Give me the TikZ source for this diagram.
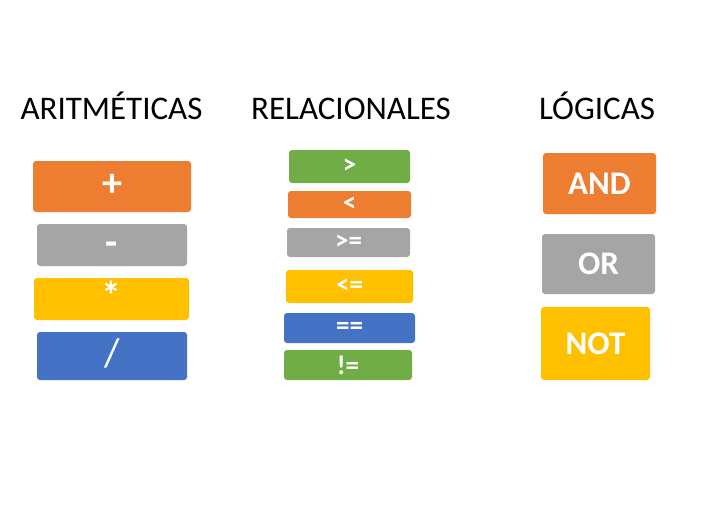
\documentclass[tikz,border=0pt]{standalone}
\usepackage{fontspec}
\setmainfont{Carlito}
\definecolor{offorange}{HTML}{ED7D31}
\definecolor{offgray}{HTML}{A5A5A5}
\definecolor{offyellow}{HTML}{FFC000}
\definecolor{offblue}{HTML}{4472C4}
\definecolor{offgreen}{HTML}{70AD47}
\tikzset{
  title/.style={anchor=base, font=\fontsize{33}{40}\selectfont},
  opbox/.style={rounded corners=3pt, inner sep=0pt, text=white},
  arith/.style={opbox, font=\fontsize{40}{44}\selectfont, text height=28pt, text depth=8pt},
  rel/.style={opbox, font=\bfseries\fontsize{27}{30}\selectfont},
  logic/.style={opbox, font=\bfseries\fontsize{33}{40}\selectfont}
}
\begin{document}
\begin{tikzpicture}[x=1pt, y=-1pt]
  \useasboundingbox (0,0) rectangle (713,523);

  \node[title] (tarith) at (111.5,119) {ARITMÉTICAS};
  \node[title] (trel) at (351,119) {RELACIONALES};
  \node[title] (tlogic) at (597,119) {LÓGICAS};

  % aritmeticas
  \node[arith, fill=offorange, minimum width=158pt, minimum height=51pt] (plus) at (112,186.5) {\bfseries +};
  \node[arith, fill=offgray, minimum width=150pt, minimum height=42pt] (minus) at (112,245) {\bfseries -};
  \node[arith, fill=offyellow, minimum width=155pt, minimum height=42pt] (times) at (111.5,299) {\bfseries *};
  \node[arith, fill=offblue, minimum width=150pt, minimum height=48pt] (div) at (112,356) {/};

  % relacionales
  \node[rel, fill=offgreen, minimum width=121pt, minimum height=33pt] (gt) at (349.5,166.5) {>};
  \node[rel, fill=offorange, minimum width=123pt, minimum height=27pt] (lt) at (349.5,204.5) {<};
  \node[rel, fill=offgray, minimum width=123pt, minimum height=29pt] (ge) at (348.5,242.5) {>=};
  \node[rel, fill=offyellow, minimum width=127pt, minimum height=33pt] (le) at (349.5,286.5) {<=};
  \node[rel, fill=offblue, minimum width=131pt, minimum height=30pt] (eq) at (349.5,328) {==};
  \node[rel, fill=offgreen, minimum width=128pt, minimum height=30pt] (ne) at (348,365) {!=};

  % logicas
  \node[logic, fill=offorange, minimum width=113pt, minimum height=61pt] (and) at (599.5,183.5) {AND};
  \node[logic, fill=offgray, minimum width=113pt, minimum height=60pt] (or) at (598.5,264) {OR};
  \node[logic, fill=offyellow, minimum width=109pt, minimum height=73pt] (not) at (595.5,343.5) {NOT};
\end{tikzpicture}
\end{document}
